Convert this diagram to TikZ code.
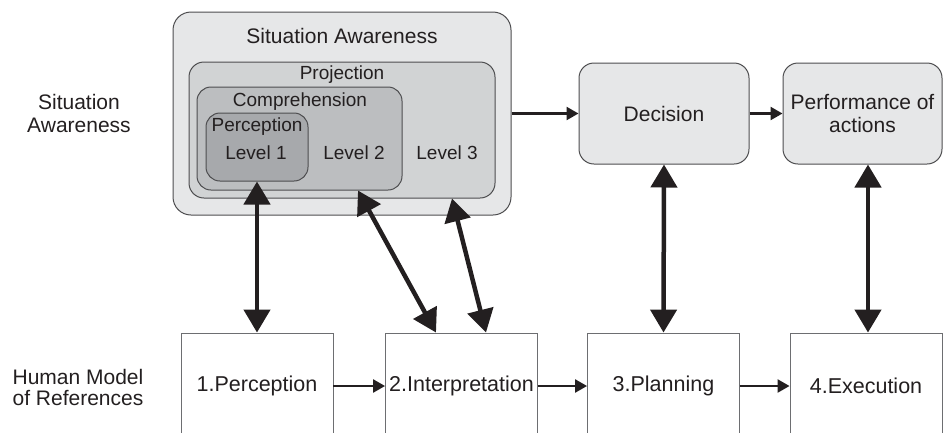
\documentclass[tikz,border=0pt]{standalone}
\usepackage{fontspec}
\setmainfont{Liberation Sans}
\usetikzlibrary{arrows.meta}
\definecolor{ink}{HTML}{231F20}
\definecolor{edge}{HTML}{4D4D4F}
\definecolor{frame}{HTML}{6D6E71}
\definecolor{fillA}{HTML}{E6E7E8}
\definecolor{fillB}{HTML}{D1D3D4}
\definecolor{fillC}{HTML}{BCBEC0}
\definecolor{fillD}{HTML}{A7A9AC}
\begin{document}
\begin{tikzpicture}[x=1pt,y=-1pt,
  txt/.style={text=ink,inner sep=0pt,align=center,font=\fontsize{21}{23}\selectfont},
  small/.style={text=ink,inner sep=0pt,align=center,font=\fontsize{19}{21}\selectfont},
  zone/.style={draw=edge,line width=1pt,rounded corners=#1,inner sep=0pt},
  zone/.default=15pt,
  block/.style={draw=frame,line width=0.9pt,fill=white,inner sep=0pt,
    minimum width=152pt,minimum height=106pt,text=ink,font=\fontsize{21.5}{23}\selectfont},
  flow/.style={draw=ink,line width=2.4pt,-{Triangle[length=12pt,width=13pt]}},
  link/.style={draw=ink,line width=4.5pt,{Triangle[length=23pt,width=26pt]}-{Triangle[length=23pt,width=26pt]}}
]
\useasboundingbox (0,0) rectangle (944,432);
\clip (0,0) rectangle (944,432);

% nested situation awareness levels
\node[zone=18pt,fill=fillA,minimum width=338pt,minimum height=203pt] (sa) at (342,113.5) {};
\node[zone=15pt,fill=fillB,minimum width=306pt,minimum height=136pt] (proj) at (342,130) {};
\node[zone=14pt,fill=fillC,minimum width=205pt,minimum height=103pt] (comp) at (299.5,138.5) {};
\node[zone=14pt,fill=fillD,minimum width=102pt,minimum height=68pt] (perc) at (257,147) {};

\node[txt] (saT) at (342,36) {Situation Awareness};
\node[small] (projT) at (342,75) {Projection};
\node[small] (compT) at (300,102) {Comprehension};
\node[small] (percT) at (257,127) {Perception};
\node[small] (l1) at (256,153) {Level 1};
\node[small] (l2) at (354,153) {Level 2};
\node[small] (l3) at (447,153) {Level 3};

% decision and action stages
\node[zone=15pt,fill=fillA,minimum width=170pt,minimum height=101pt,txt] (dec) at (664,113.5) {Decision};
\node[zone=15pt,fill=fillA,minimum width=159pt,minimum height=101pt,txt] (perf) at (862.5,113.5) {Performance of\\actions};

% row labels
\node[txt,font=\fontsize{21}{23}\selectfont] (rowA) at (79,113.5) {Situation\\Awareness};
\node[txt,font=\fontsize{21}{21}\selectfont] (rowB) at (78,387.5) {Human Model\\of References};

% human model stages
\node[block] (b1) at (257,386) {1.Perception};
\node[block] (b2) at (461.5,386) {2.Interpretation};
\node[block] (b3) at (663.5,386) {3.Planning};
\node[block] (b4) at (866,386) {4.Execution};

% forward flow
\draw[flow] (sa.east |- dec.west) -- (dec.west);
\draw[flow] (dec.east) -- (perf.west);
\draw[flow] (b1.east) -- (b2.west);
\draw[flow] (b2.east) -- (b3.west);
\draw[flow] (b3.east) -- (b4.west);

% two-way links
\draw[link] (perc.south) -- (b1.north);
\draw[link] ([xshift=58.5pt]comp.south) -- ([xshift=-25.5pt]b2.north);
\draw[link] ([xshift=110pt]proj.south) -- ([xshift=24.5pt]b2.north);
\draw[link] (dec.south) -- (b3.north);
\draw[link] ([xshift=5.5pt]perf.south) -- ([xshift=2pt]b4.north);
\end{tikzpicture}
\end{document}
